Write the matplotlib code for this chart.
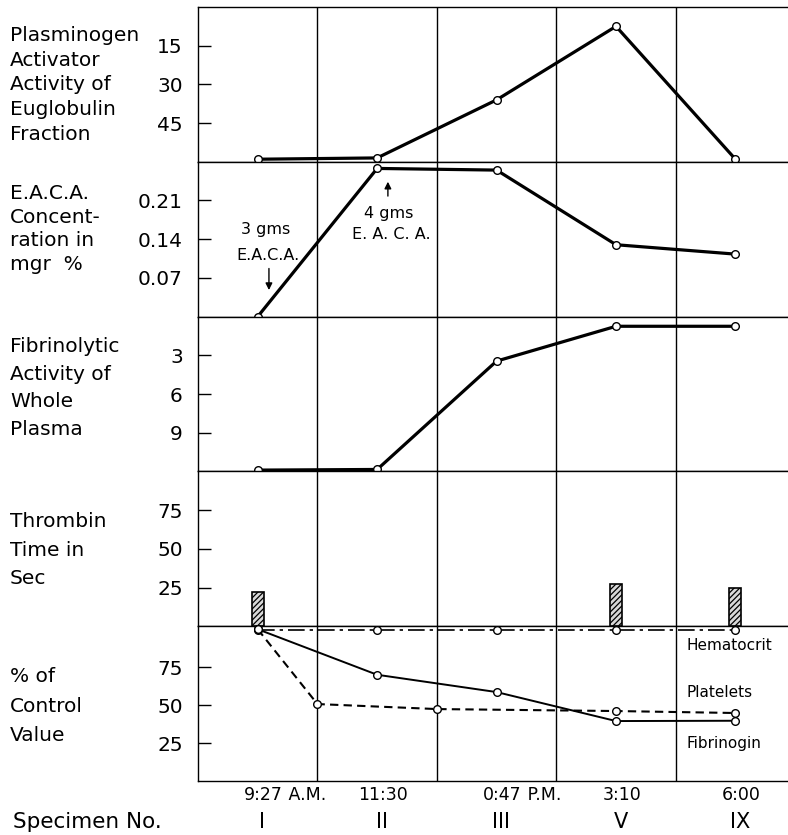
import matplotlib
matplotlib.use("Agg")
import matplotlib.pyplot as plt
import matplotlib.transforms as mtransforms

specimens = ["I", "II", "III", "V", "IX"]
times = ["9:27", "11:30", "0:47", "3:10", "6:00"]
time_suffix = [" A.M.", "", " P.M.", "", ""]

plasminogen_activity = [59, 58.5, 36, 7.5, 59]
eaca_concentration = [0.0, 0.268, 0.265, 0.13, 0.113]
fibrinolytic_activity = [11.9, 11.85, 3.45, 0.75, 0.75]

thrombin_specimen = [0, 3, 4]
thrombin_time = [22, 27, 24.5]

hematocrit = [99.5, 99.5, 99.5, 99.5, 99.5]
platelets_x = [0, 0.5, 1.5, 3, 4]
platelets = [100, 50.7, 47.4, 46.1, 44.8]
fibrinogen = [100, 70, 58.6, 39.5, 39.7]

panel_labels = [
    "Plasminogen\nActivator\nActivity of\nEuglobulin\nFraction",
    "E.A.C.A.\nConcent-\nration in\nmgr  %",
    "Fibrinolytic\nActivity of\nWhole\nPlasma",
    "Thrombin\nTime in\nSec",
    "% of\nControl\nValue",
]
# vertical centre (px from top) and line spacing of each side label
label_centres = [85, 229, 388, 550, 706]
label_spacing = [1.38, 1.32, 1.58, 1.65, 1.72]

W, H = 788, 835
plt.rcParams["font.family"] = "DejaVu Sans"
plt.rcParams["hatch.linewidth"] = 0.9


def circles(ax, x, y, **kw):
    ax.plot(x, y, color="black", marker="o", ms=5.5, mfc="white",
            mec="black", mew=1.0, clip_on=False, zorder=4, **kw)


def main():
    fig, axes = plt.subplots(5, 1, figsize=(W / 100, H / 100), dpi=100,
                             sharex=True, gridspec_kw={"hspace": 0})
    fig.subplots_adjust(left=198 / W, right=1.0, top=1 - 7 / H,
                        bottom=1 - 781 / H)

    xs = list(range(len(specimens)))
    for ax in axes:
        ax.set_xlim(-0.5, 4.44)
        for g in [0.5, 1.5, 2.5, 3.5]:
            ax.axvline(g, color="black", lw=1.0, zorder=1)
        ax.spines["right"].set_visible(False)
        for s in ax.spines.values():
            s.set_linewidth(1.0)
        ax.tick_params(axis="y", direction="in", length=9, width=1,
                       labelsize=14.5, pad=11)
        ax.tick_params(axis="x", bottom=False, labelbottom=False)

    ax1, ax2, ax3, ax4, ax5 = axes

    # plasminogen activator activity (inverted scale)
    circles(ax1, xs, plasminogen_activity, lw=2.3)
    ax1.set_ylim(60, 0)
    ax1.set_yticks([15, 30, 45])

    # E.A.C.A. concentration
    circles(ax2, xs, eaca_concentration, lw=2.3)
    ax2.set_ylim(0, 0.28)
    ax2.set_yticks([0.07, 0.14, 0.21])
    ax2.set_yticklabels(["0.07", "0.14", "0.21"])
    ax2.text(0.07, 0.157, "3 gms", ha="center", va="center", fontsize=11.5)
    ax2.text(0.086, 0.111, "E.A.C.A.", ha="center", va="center", fontsize=11.5)
    ax2.annotate("", xy=(0.094, 0.043), xytext=(0.094, 0.092),
                 arrowprops=dict(arrowstyle="-|>", color="black", lw=1.0,
                                 mutation_scale=10))
    ax2.text(1.098, 0.187, "4 gms", ha="center", va="center", fontsize=11.5)
    ax2.text(1.115, 0.148, "E. A. C. A.", ha="center", va="center",
             fontsize=11.5)
    ax2.annotate("", xy=(1.09, 0.249), xytext=(1.09, 0.213),
                 arrowprops=dict(arrowstyle="-|>", color="black", lw=1.0,
                                 mutation_scale=10))

    # fibrinolytic activity of whole plasma (inverted scale)
    circles(ax3, xs, fibrinolytic_activity, lw=2.3)
    ax3.set_ylim(12, 0)
    ax3.set_yticks([3, 6, 9])

    # thrombin time bars
    ax4.bar(thrombin_specimen, thrombin_time, width=0.1, facecolor="#d8d8d8",
            edgecolor="black", hatch="//////", lw=1.2, zorder=3)
    ax4.set_ylim(0, 100)
    ax4.set_yticks([25, 50, 75])

    # percent of control value
    circles(ax5, xs, hematocrit, lw=1.2, ls=(0, (10, 3, 2, 3)))
    circles(ax5, platelets_x, platelets, lw=1.5, ls=(0, (4, 2.5)))
    circles(ax5, xs, fibrinogen, lw=1.4)
    ax5.set_ylim(0, 102)
    ax5.set_yticks([25, 50, 75])
    ax5.text(3.59, 89.6, "Hematocrit", ha="left", va="center", fontsize=11)
    ax5.text(3.59, 58.6, "Platelets", ha="left", va="center", fontsize=11)
    ax5.text(3.59, 25, "Fibrinogin", ha="left", va="center", fontsize=11)

    # side labels
    for text, yc, ls in zip(panel_labels, label_centres, label_spacing):
        fig.text(10 / W, 1 - yc / H, text, ha="left", va="center",
                 fontsize=14.5, linespacing=ls)

    # bottom time and specimen rows
    trans = mtransforms.blended_transform_factory(ax5.transData,
                                                  fig.transFigure)
    for i, (t, suf, sp) in enumerate(zip(times, time_suffix, specimens)):
        lab = ax5.text(i + 0.05, 1 - 795 / H, t, transform=trans,
                       ha="center", va="center", fontsize=12.5, clip_on=False)
        if suf:
            ax5.annotate(suf, xy=(1, 0), xycoords=lab, ha="left",
                         va="bottom", fontsize=12.5)
        ax5.text(i + 0.04, 1 - 822 / H, sp, transform=trans, ha="center",
                 va="center", fontsize=15, clip_on=False)
    fig.text(13 / W, 1 - 822 / H, "Specimen No.", ha="left", va="center",
             fontsize=15.5)

    fig.savefig("out.png", dpi=100, facecolor="white")


if __name__ == "__main__":
    main()
